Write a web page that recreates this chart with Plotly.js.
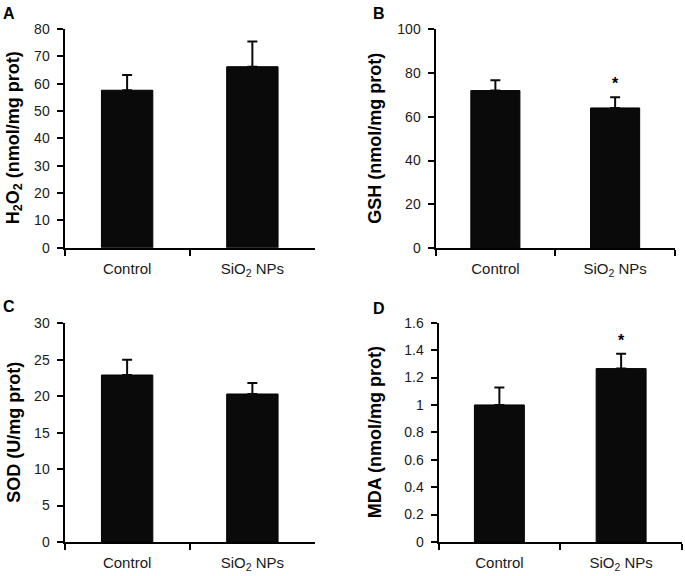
<!DOCTYPE html>
<html>
<head>
<meta charset="utf-8">
<script src="https://cdn.plot.ly/plotly-3.0.1.min.js"></script>
<style>html,body{margin:0;padding:0;background:#fff;}#chart{width:685px;height:576px;}</style>
</head>
<body>
<div id="chart"></div>
<script>
const categories = ['Control', 'SiO<sub>2</sub> NPs'];
const h2o2 = [57.6, 66.2];
const h2o2Err = [5.6, 9.2];
const gsh = [71.9, 64.0];
const gshErr = [4.7, 4.9];
const sod = [22.9, 20.3];
const sodErr = [2.1, 1.5];
const mda = [1.00, 1.265];
const mdaErr = [0.128, 0.108];
const yTitles = ['H<sub>2</sub>O<sub>2</sub> (nmol/mg prot)', 'GSH (nmol/mg prot)', 'SOD (U/mg prot)', 'MDA (nmol/mg prot)'];
const panelLetters = ['A', 'B', 'C', 'D'];
const yRanges = [[0, 80], [0, 100], [0, 30], [0, 1.6]];
const yDticks = [10, 20, 5, 0.2];
const sigMarks = [[], [1], [], [1]];

const W = 685, H = 576;
const FONT = 'Arial, "Liberation Sans", Helvetica, sans-serif';
// pixel boxes of each plot area [x0, x1, yTop, yBottom]
const boxes = [[64.5, 315, 29, 247.7], [435.5, 675, 29, 248.3], [64.5, 315, 323.3, 542], [438.5, 682, 322.7, 542]];
const titleX = [14, 375, 14, 375];
const letterPos = [[1, 3], [371, 3], [1, 296], [371, 298]];
const series = [[h2o2, h2o2Err], [gsh, gshErr], [sod, sodErr], [mda, mdaErr]];

const data = [];
const layout = {
  width: W, height: H,
  margin: {l: 0, r: 0, t: 0, b: 0},
  paper_bgcolor: '#fff', plot_bgcolor: '#fff',
  showlegend: false,
  font: {family: FONT, color: '#1a1a1a', size: 14},
  annotations: []
};

series.forEach((s, i) => {
  const n = i + 1;
  const xa = n === 1 ? 'x' : 'x' + n;
  const ya = n === 1 ? 'y' : 'y' + n;
  data.push({
    type: 'bar', x: categories, y: s[0], xaxis: xa, yaxis: ya,
    width: 0.41,
    marker: {color: '#0a0a0a', line: {color: '#000', width: 1}},
    error_y: {type: 'data', symmetric: false, array: s[1], arrayminus: [0, 0], color: '#0a0a0a', thickness: 2, width: 5},
    hoverinfo: 'skip'
  });
  const b = boxes[i];
  const xKey = n === 1 ? 'xaxis' : 'xaxis' + n;
  const yKey = n === 1 ? 'yaxis' : 'yaxis' + n;
  layout[xKey] = {
    domain: [b[0] / W, b[1] / W], anchor: ya,
    type: 'category', range: [-0.5, 1.5],
    showline: true, linecolor: '#000', linewidth: 2,
    ticks: 'outside', tickson: 'boundaries', ticklen: 6, tickwidth: 2, tickcolor: '#000',
    ticklabelstandoff: 6,
    showgrid: false, zeroline: false, fixedrange: true,
    tickfont: {family: FONT, size: 15, color: '#1a1a1a'}
  };
  layout[yKey] = {
    domain: [1 - b[3] / H, 1 - b[2] / H], anchor: xa,
    range: yRanges[i], dtick: yDticks[i], tick0: 0,
    showline: true, linecolor: '#000', linewidth: 2,
    ticks: 'outside', ticklen: 6, tickwidth: 2, tickcolor: '#000',
    ticklabelstandoff: 4,
    showgrid: false, zeroline: false, fixedrange: true,
    tickfont: {family: FONT, size: 14, color: '#1a1a1a'}
  };
  layout.annotations.push({
    xref: 'paper', yref: 'paper', x: titleX[i] / W, y: 1 - ((b[2] + b[3]) / 2) / H,
    text: '<b>' + yTitles[i] + '</b>', textangle: -90, showarrow: false,
    xanchor: 'center', yanchor: 'middle',
    font: {family: FONT, size: 18, color: '#000'}
  });
  layout.annotations.push({
    xref: 'paper', yref: 'paper', x: letterPos[i][0] / W, y: 1 - letterPos[i][1] / H,
    text: '<b>' + panelLetters[i] + '</b>', showarrow: false,
    xanchor: 'left', yanchor: 'top',
    font: {family: FONT, size: 16, color: '#000'}
  });
  sigMarks[i].forEach(k => {
    layout.annotations.push({
      xref: xa, yref: ya, x: categories[k], y: s[0][k] + s[1][k],
      text: '<b>*</b>', showarrow: false, xanchor: 'center', yanchor: 'bottom', yshift: 3,
      font: {family: FONT, size: 16, color: '#000'}
    });
  });
});

Plotly.newPlot('chart', data, layout, {displayModeBar: false, staticPlot: true});
</script>
</body>
</html>
